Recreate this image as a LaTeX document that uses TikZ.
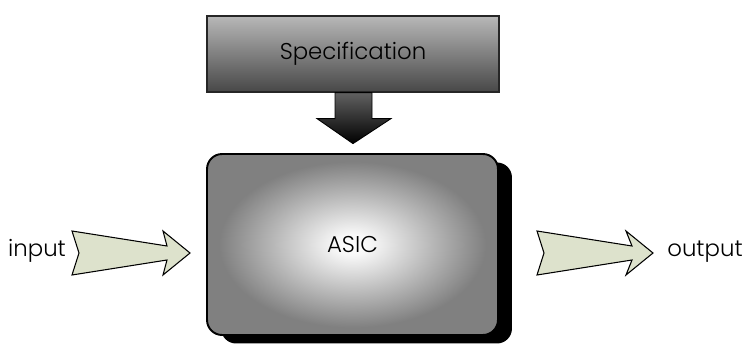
\documentclass[tikz,border=0pt]{standalone}
\usepackage{fontspec}
\setmainfont{Poppins}[UprightFont=* Light]
\usetikzlibrary{arrows,shadows}

% soft white glow in the middle of the chip
\pgfdeclareradialshading{asicglow}{\pgfpoint{0bp}{0bp}}{color(0bp)=(white); color(3bp)=(white!97!black); color(23bp)=(black!50); color(50bp)=(black!50)}
\definecolor{arrowfill}{RGB}{221,226,204}

\begin{document}
\begin{tikzpicture}[x=0.02cm,y=-0.02cm,font=\fontsize{13}{15}\selectfont]

\tikzstyle{box} = [rectangle, text centered, draw=black]
\tikzstyle{spec box} = [box, minimum width=5.84cm, minimum height=1.52cm, top color=black!28, bottom color=black!72, draw=black!85, line width=0.7pt]
\tikzstyle{chip} = [box, rounded corners=0.3cm, minimum width=5.82cm, minimum height=3.62cm, shading=asicglow, line width=1.1pt, drop shadow={shadow xshift=0.28cm, shadow yshift=-0.17cm, fill=black, opacity=1}]
\tikzstyle{block} = [fill=arrowfill, draw=black, line width=0.6pt, line join=miter]
\tikzstyle{lbl} = [inner sep=0pt, anchor=base]

\useasboundingbox (0,0) rectangle (744,345);

\node (spec) [spec box] at (353,54) {Specification};
\node (asic) [chip] at (352.5,244.5) {ASIC};
\node (input) [lbl] at (37,256) {input};
\node (output) [lbl] at (705,256) {output};

% fat arrow from the specification down to the chip
\shade[shift={(spec.south)}, top color=black!62, bottom color=black, draw=black, line width=0.5pt]
  (-18,0) -- (19,0) -- (19,26) -- (38,26) -- (0,51) -- (-36,26) -- (-18,26) -- cycle;

% block arrows for input and output
\coordinate (intail) at (72,253);
\coordinate (outtail) at (537,253);
\draw[block, shift={(intail)}]
  (0,-22) -- (95,-7) -- (91,-22) -- (118,0) -- (91,22) -- (95,7) -- (0,22) -- (7,0) -- cycle;
\draw[block, shift={(outtail)}]
  (0,-22) -- (95,-7) -- (89,-22) -- (116,0) -- (89,22) -- (95,7) -- (0,22) -- (7,0) -- cycle;

\end{tikzpicture}
\end{document}
